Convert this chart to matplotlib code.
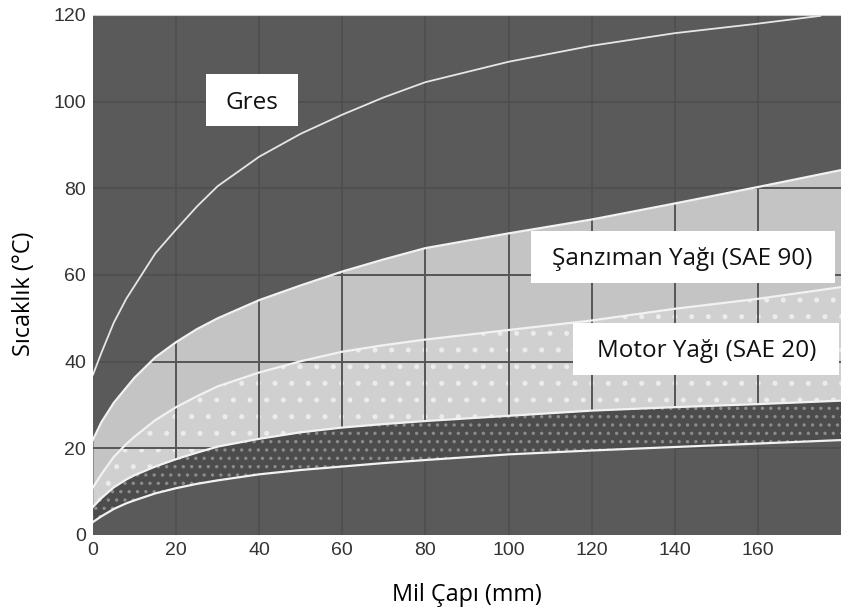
import numpy as np
import matplotlib.pyplot as plt
from matplotlib.patches import Rectangle

# shaft diameter (mm) and temperature limits (°C)
x = [0, 2, 5, 8, 10, 15, 20, 25, 30, 40, 50, 60, 70, 80, 100, 120, 140, 160, 180]
sanziman_top = [22, 26, 30.5, 34, 36.3, 41, 44.5, 47.5, 50, 54.2, 57.6, 60.8, 63.6, 66.2, 69.6, 72.8, 76.5, 80.3, 84.2]
motor_top = [11, 14, 18, 21, 22.7, 26.5, 29.5, 32, 34.3, 37.5, 40.1, 42.3, 43.8, 45.1, 47.3, 49.5, 52.2, 54.5, 57.2]
band_top = [6.5, 8.5, 11, 12.8, 13.8, 15.8, 17.5, 19, 20.4, 22.2, 23.7, 24.8, 25.6, 26.3, 27.5, 28.7, 29.5, 30.2, 31]
bottom = [3, 4.3, 6, 7.3, 8, 9.6, 10.8, 11.8, 12.6, 14, 15, 15.8, 16.6, 17.3, 18.6, 19.5, 20.3, 21.1, 21.9]

gres_x = [0, 2, 5, 8, 10, 15, 20, 25, 30, 40, 50, 60, 70, 80, 100, 120, 140, 160, 175]
gres_y = [37, 42, 49, 54.5, 57.5, 65, 70.5, 75.8, 80.5, 87.3, 92.6, 97, 101, 104.5, 109.2, 112.9, 115.8, 118, 119.8]

xticks = [0, 20, 40, 60, 80, 100, 120, 140, 160]
yticks = [0, 20, 40, 60, 80, 100, 120]

plt.rcParams['hatch.linewidth'] = 1.2

fig = plt.figure(figsize=(8.41, 6.14), dpi=100)
ax = fig.add_axes([0.1106, 0.1287, 0.8894, 0.8469])
ax.set_facecolor('#5a5a5a')
ax.set_xlim(0, 180)
ax.set_ylim(0, 120)

# regions
light = ax.fill_between(x, band_top, sanziman_top, color='#c4c4c4', lw=0, zorder=1)
ax.fill_between(x, band_top, motor_top, color='#d0d0d0', lw=0, zorder=1)
ax.fill_between(x, band_top, motor_top, facecolor='none', edgecolor='#ececec',
                hatch='.', lw=0, zorder=1)
ax.fill_between(x, bottom, band_top, color='#4c4c4c', lw=0, zorder=1)
ax.fill_between(x, bottom, band_top, facecolor='none', edgecolor='#8c8c8c',
                hatch='..', lw=0, zorder=1)

# grid: faint over the dark background, stronger over the light band
clip = light.get_paths()[0]
for gx in xticks[1:]:
    ax.axvline(gx, color='#4e4e4e', lw=1.2, zorder=0.5)
    l = ax.axvline(gx, color='#555555', lw=1.4, zorder=2)
    l.set_clip_path(clip, transform=ax.transData)
for gy in yticks[1:-1]:
    ax.axhline(gy, color='#4e4e4e', lw=1.2, zorder=0.5)
    l = ax.axhline(gy, color='#555555', lw=1.4, zorder=2)
    l.set_clip_path(clip, transform=ax.transData)

# curves
for yy in [sanziman_top, motor_top, band_top, bottom]:
    ax.plot(x, yy, color='#f2f2f2', lw=1.6, zorder=3)
ax.plot(gres_x, gres_y, color='#e6e6e6', lw=1.3, zorder=3)

# labels
boxes = [((27.2, 94.4), 22.1, 12.0, 38.3, 99.8, 'Gres'),
         ((105.4, 58.2), 73.1, 12.0, 141.8, 63.8, 'Şanzıman Yağı (SAE 90)'),
         ((115.5, 36.9), 64.0, 12.0, 147.6, 42.5, 'Motor Yağı (SAE 20)')]
for (bx, by), bw, bh, tx, ty, txt in boxes:
    ax.add_patch(Rectangle((bx, by), bw, bh, facecolor='white', edgecolor='none', zorder=4))
    ax.text(tx, ty, txt, ha='center', va='center', fontsize=17.5,
            family='Open Sans', color='#111111', zorder=5)

ax.set_xticks(xticks)
ax.set_yticks(yticks)
ax.tick_params(length=0, labelsize=14, labelcolor='#333333', pad=5)
for lab in ax.get_xticklabels() + ax.get_yticklabels():
    lab.set_family('Liberation Sans')
for s in ax.spines.values():
    s.set_visible(False)
ax.spines['top'].set_visible(True)
ax.spines['top'].set_color('#cfcfcf')

ax.set_xlabel('Mil Çapı (mm)', fontsize=16.8, family='Open Sans', labelpad=17)
ax.set_ylabel('Sıcaklık (°C)', fontsize=16.8, family='Open Sans')
ax.yaxis.set_label_coords(-0.076, 0.463)

fig.savefig('out.png', dpi=100)
